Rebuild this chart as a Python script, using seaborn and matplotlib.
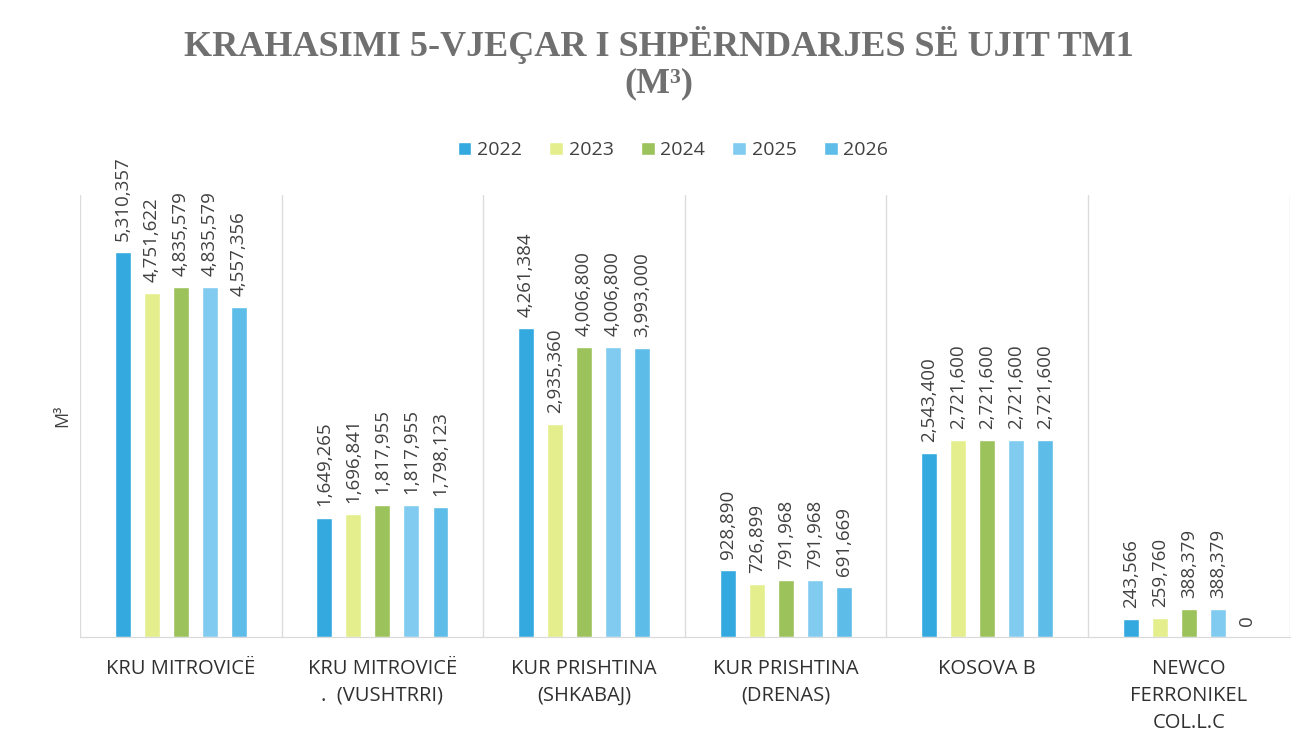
import pandas as pd
import seaborn as sns
import matplotlib.pyplot as plt
from matplotlib.ticker import FixedLocator

categories = ["KRU MITROVICË", "KRU MITROVICË\n.  (VUSHTRRI)", "KUR PRISHTINA\n(SHKABAJ)",
              "KUR PRISHTINA\n(DRENAS)", "KOSOVA B", "NEWCO\nFERRONIKEL\nCOL.L.C"]
years = ["2022", "2023", "2024", "2025", "2026"]
v2022 = [5310357, 1649265, 4261384, 928890, 2543400, 243566]
v2023 = [4751622, 1696841, 2935360, 726899, 2721600, 259760]
v2024 = [4835579, 1817955, 4006800, 791968, 2721600, 388379]
v2025 = [4835579, 1817955, 4006800, 791968, 2721600, 388379]
v2026 = [4557356, 1798123, 3993000, 691669, 2721600, 0]
colors = ["#34a9df", "#e4ee8c", "#9cc25c", "#80cbef", "#5dbce8"]

rows = []
for y, vals in zip(years, [v2022, v2023, v2024, v2025, v2026]):
    for c, v in zip(categories, vals):
        rows.append({"cat": c, "year": y, "value": v})
df = pd.DataFrame(rows)

sns.set_style("white")
plt.rcParams['font.family'] = ['Open Sans', 'DejaVu Sans']

fig = plt.figure(figsize=(13.12, 7.44), dpi=100)
ax = fig.add_axes([0.061, 0.1438, 0.922, 0.594])

sns.barplot(data=df, x="cat", y="value", hue="year", palette=colors, saturation=1,
            width=0.72, gap=0.45, ax=ax, legend=True)

for cont in ax.containers:
    ax.bar_label(cont, labels=[f"{int(v):,}" for v in cont.datavalues],
                 rotation=90, padding=8, fontsize=13.5, color="#404040")

ax.set_ylim(0, 6100000)
ax.set_xlim(-0.5, 5.5)
ax.set_yticks([])
ax.set_xlabel("")
ax.set_ylabel("M³", fontsize=13, color="#404040", labelpad=6)
ax.xaxis.set_minor_locator(FixedLocator([i - 0.5 for i in range(7)]))
ax.grid(True, which="minor", axis="x", color="#dcdcdc", lw=1)
ax.tick_params(axis="x", which="both", length=0, pad=16, labelsize=14.5, colors="#303030")
for lbl in ax.get_xticklabels():
    lbl.set_linespacing(1.45)
for s in ["top", "left", "right"]:
    ax.spines[s].set_visible(False)
ax.spines["bottom"].set_color("#d9d9d9")

ax.legend_.remove()
handles, labels = ax.get_legend_handles_labels()
fig.legend(handles, labels, loc="center", bbox_to_anchor=(0.513, 0.798), ncol=5,
           frameon=False, fontsize=14, handlelength=0.7, handleheight=0.7,
           columnspacing=1.4, handletextpad=0.3, labelcolor="#404040")

fig.text(0.502, 0.915, "KRAHASIMI 5-VJEÇAR I SHPËRNDARJES SË UJIT TM1\n(M³)",
         ha="center", va="center", fontsize=26, fontweight="bold",
         family="Liberation Serif", color="#707070", linespacing=1.1)

fig.savefig("out.png", dpi=100)
